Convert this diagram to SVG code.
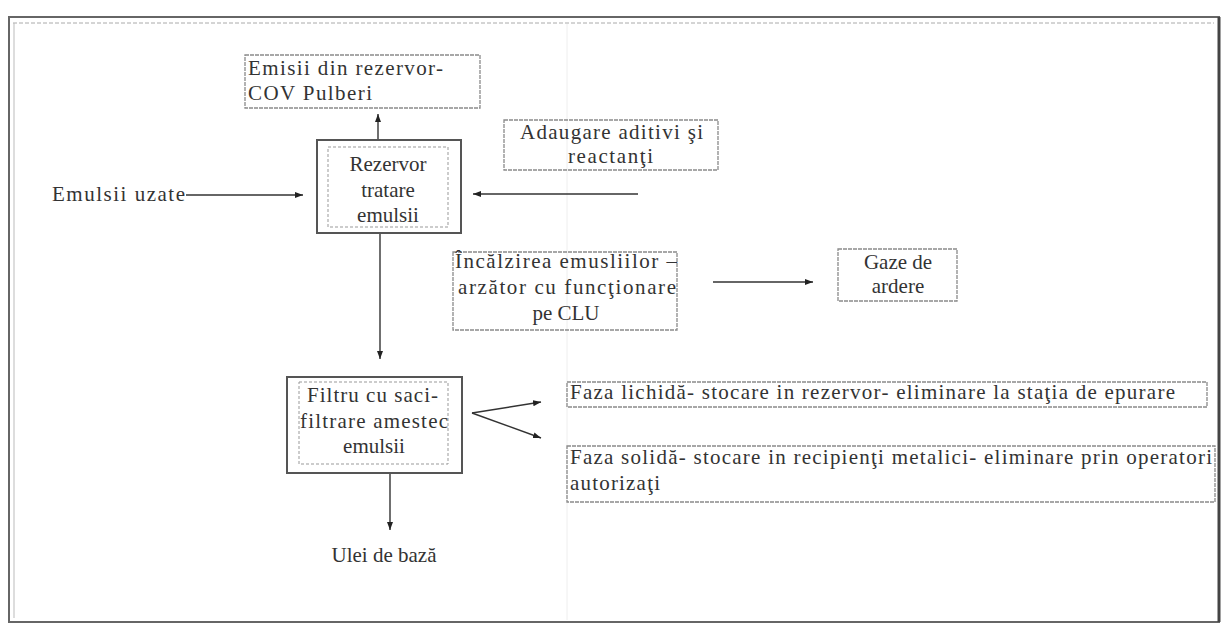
<svg xmlns="http://www.w3.org/2000/svg" width="1226" height="628" viewBox="0 0 1226 628" font-family="'Liberation Serif', 'DejaVu Serif', serif">
<style>
text{font-size:21px;fill:#333}
.box{fill:none;stroke:#8a8a8a;stroke-width:1.3;stroke-dasharray:4 1}
.outer{fill:none;stroke:#555;stroke-width:2}
.inner{fill:none;stroke:#999;stroke-width:1;stroke-dasharray:3 2}
.conn{stroke:#333;stroke-width:1.4;fill:none}
.mid{text-anchor:middle}
</style>
<defs>
<marker id="ah" markerWidth="8" markerHeight="7" refX="8" refY="3.5" orient="auto" markerUnits="userSpaceOnUse">
<path d="M0,0.5 L8,3.5 L0,6.5 z" fill="#222"/>
</marker>
</defs>
<rect width="1226" height="628" fill="#fff"/>
<g id="frame">
<rect x="9" y="17" width="1210" height="605" fill="none" stroke="#666" stroke-width="2"/>
<line x1="13" y1="23" x2="1214" y2="23" stroke="#aaa" stroke-width="1" stroke-dasharray="4 2"/>
<line x1="14" y1="23" x2="14" y2="618" stroke="#bbb" stroke-width="1"/>
<line x1="1219" y1="17" x2="1219" y2="622" stroke="#444" stroke-width="3"/>
<line x1="567" y1="24" x2="567" y2="620" stroke="#eee" stroke-width="1"/>
</g>
<g id="connectors">
<line class="conn" x1="186" y1="195" x2="303" y2="195" marker-end="url(#ah)"/>
<line class="conn" x1="638" y1="194" x2="473" y2="194" marker-end="url(#ah)"/>
<line class="conn" x1="378" y1="140" x2="378" y2="114" marker-end="url(#ah)"/>
<line class="conn" x1="380" y1="233" x2="380" y2="359" marker-end="url(#ah)"/>
<line class="conn" x1="713" y1="282" x2="813" y2="282" marker-end="url(#ah)"/>
<line class="conn" x1="472" y1="413" x2="541" y2="402" marker-end="url(#ah)"/>
<line class="conn" x1="472" y1="413" x2="541" y2="438" marker-end="url(#ah)"/>
<line class="conn" x1="390" y1="473" x2="390" y2="530" marker-end="url(#ah)"/>
</g>
<g id="emisii">
<rect class="box" x="245" y="55" width="235" height="53"/>
<text x="248" y="75" textLength="195" lengthAdjust="spacing">Emisii din rezervor-</text>
<text x="248" y="100" textLength="124" lengthAdjust="spacing">COV Pulberi</text>
</g>
<g id="rezervor">
<rect class="outer" x="317" y="140" width="144" height="93"/>
<rect class="inner" x="328" y="147" width="120" height="80"/>
<text class="mid" x="388" y="171">Rezervor</text>
<text class="mid" x="388" y="197">tratare</text>
<text class="mid" x="388" y="222">emulsii</text>
</g>
<g id="emulsii-uzate">
<text x="52" y="201" textLength="133" lengthAdjust="spacing">Emulsii uzate</text>
</g>
<g id="adaugare">
<rect class="box" x="504" y="120" width="214" height="50"/>
<text x="520" y="139" textLength="183" lengthAdjust="spacing">Adaugare aditivi şi</text>
<text x="568" y="163" textLength="85" lengthAdjust="spacing">reactanţi</text>
</g>
<g id="incalzirea">
<rect class="box" x="453" y="252" width="224" height="78"/>
<text x="455" y="268" textLength="222" lengthAdjust="spacing">Încălzirea emusliilor –</text>
<text x="458" y="294" textLength="218" lengthAdjust="spacing">arzător cu funcţionare</text>
<text class="mid" x="566" y="320">pe CLU</text>
</g>
<g id="gaze">
<rect class="box" x="838" y="249" width="119" height="52"/>
<text class="mid" x="898" y="269">Gaze de</text>
<text class="mid" x="898" y="293">ardere</text>
</g>
<g id="filtru">
<rect class="outer" x="287" y="377" width="175" height="96"/>
<rect class="inner" x="299" y="382" width="149" height="82"/>
<text x="307" y="402" textLength="131" lengthAdjust="spacing">Filtru cu saci-</text>
<text x="300" y="428" textLength="148" lengthAdjust="spacing">filtrare amestec</text>
<text class="mid" x="374" y="453">emulsii</text>
</g>
<g id="ulei">
<text class="mid" x="384" y="562">Ulei de bază</text>
</g>
<g id="faza-lichida">
<rect class="box" x="567" y="382" width="640" height="25"/>
<text x="570" y="399" textLength="605" lengthAdjust="spacing">Faza lichidă- stocare in rezervor- eliminare la staţia de epurare</text>
</g>
<g id="faza-solida">
<rect class="box" x="567" y="446" width="648" height="56"/>
<text x="570" y="464" textLength="642" lengthAdjust="spacing">Faza solidă- stocare in recipienţi metalici- eliminare prin operatori</text>
<text x="570" y="490" textLength="90" lengthAdjust="spacing">autorizaţi</text>
</g>
</svg>
